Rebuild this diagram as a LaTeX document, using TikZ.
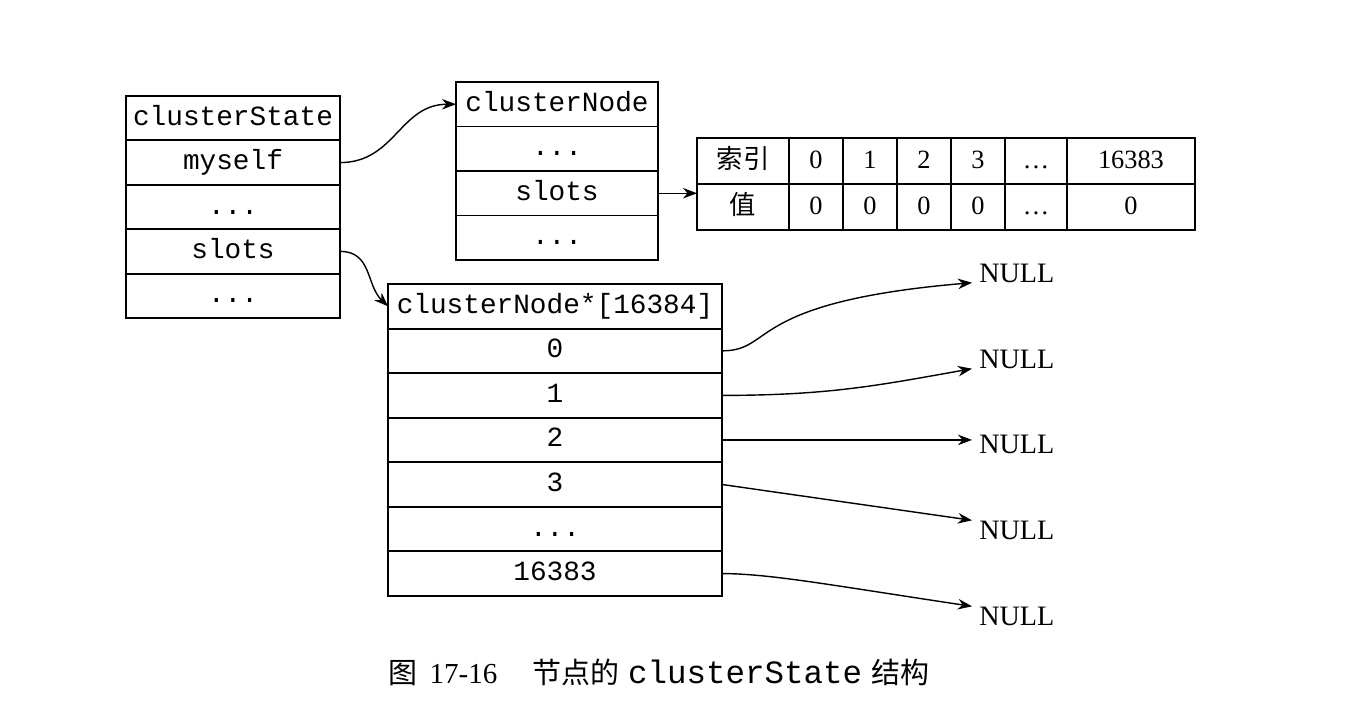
\documentclass[tikz,border=0pt]{standalone}
\usepackage{fontspec}
\setmainfont{Liberation Serif}
\setmonofont{Liberation Mono}
\newfontfamily\cjk{Noto Sans CJK SC}
\usetikzlibrary{arrows.meta, positioning}

\begin{document}
\begin{tikzpicture}[
  x=0.02cm, y=-0.02cm,
  node distance=0pt,
  cell/.style={draw, line width=1.1pt, outer sep=0pt, inner sep=0pt,
               text height=11pt, text depth=3pt,
               font=\fontsize{15.8}{18}\selectfont\ttfamily},
  csrow/.style={cell, minimum width=4.28cm, minimum height=0.888cm},
  cnrow/.style={cell, minimum width=4.04cm, minimum height=0.89cm},
  slotrow/.style={cell, minimum width=6.68cm, minimum height=0.891cm},
  tcell/.style={draw, line width=1.1pt, outer sep=0pt, inner sep=0pt,
                minimum height=0.92cm, text height=10.5pt, text depth=2.5pt,
                font=\fontsize{15}{18}\selectfont},
  nul/.style={anchor=west, inner xsep=4pt, inner ysep=0pt,
              font=\fontsize{16}{18}\selectfont},
  arr/.style={-{Stealth[length=8pt, width=6pt]}, line width=0.8pt},
]
\useasboundingbox (0,0) rectangle (1364,708);

% clusterState
\node[csrow] (cs1) at (233,118.2) {clusterState};
\node[csrow, below=of cs1] (cs2) {myself};
\node[csrow, below=of cs2] (cs3) {...};
\node[csrow, below=of cs3] (cs4) {slots};
\node[csrow, below=of cs4] (cs5) {...};

% clusterNode
\node[cnrow] (cn1) at (557,104.25) {clusterNode};
\node[cnrow, below=of cn1] (cn2) {...};
\node[cnrow, below=of cn2] (cn3) {slots};
\node[cnrow, below=of cn3] (cn4) {...};

% slots bitmap
\node[tcell, minimum width=1.84cm] (ti) at (743,161) {{\cjk 索引}};
\node[tcell, minimum width=1.08cm, right=of ti]  (ti0) {0};
\node[tcell, minimum width=1.08cm, right=of ti0] (ti1) {1};
\node[tcell, minimum width=1.08cm, right=of ti1] (ti2) {2};
\node[tcell, minimum width=1.08cm, right=of ti2] (ti3) {3};
\node[tcell, minimum width=1.24cm, right=of ti3] (tid) {\ldots};
\node[tcell, minimum width=2.56cm, right=of tid] (til) {16383};
\node[tcell, minimum width=1.84cm, below=of ti] (tv) {{\cjk 值}};
\node[tcell, minimum width=1.08cm, right=of tv]  (tv0) {0};
\node[tcell, minimum width=1.08cm, right=of tv0] (tv1) {0};
\node[tcell, minimum width=1.08cm, right=of tv1] (tv2) {0};
\node[tcell, minimum width=1.08cm, right=of tv2] (tv3) {0};
\node[tcell, minimum width=1.24cm, right=of tv3] (tvd) {\ldots};
\node[tcell, minimum width=2.56cm, right=of tvd] (tvl) {0};

% clusterNode*[16384]
\node[slotrow] (ar) at (555,306.3) {clusterNode*[16384]};
\node[slotrow, below=of ar] (a0) {0};
\node[slotrow, below=of a0] (a1) {1};
\node[slotrow, below=of a1] (a2) {2};
\node[slotrow, below=of a2] (a3) {3};
\node[slotrow, below=of a3] (ad) {...};
\node[slotrow, below=of ad] (alast) {16383};

% NULL pointers
\node[nul] (n0) at (972,273) {NULL};
\node[nul] (n1) at (972,359) {NULL};
\node[nul] (n2) at (972,444) {NULL};
\node[nul] (n3) at (972,530) {NULL};
\node[nul] (n4) at (972,616) {NULL};

\draw[arr] (cs2.east) .. controls (395,162.6) and (400,104.25) .. (cn1.west);
\draw[arr] (cs4.east) .. controls (372,251.4) and (366,285) .. (ar.west);
\draw[arr] (cn3.east) -- (cn3.east -| tv.west);

\draw[arr] (a0.east) .. controls (775,350.9) and (745,302) .. (n0.south west);
\draw[arr] (a1.east) .. controls (830,395.4) and (880,385) .. (n1.south west);
\draw[arr] (a2.east) -- (a2.east -| n2.west);
\draw[arr] (a3.east) -- (n3.north west);
\draw[arr] (alast.east) .. controls (770,573.7) and (830,585) .. (n4.north west);

% caption
\node[anchor=west, inner sep=0pt, font=\fontsize{16.5}{20}\selectfont] (cap) at (388,672)
  {{\cjk 图}\hspace{7pt}17-16\hspace{20pt}{\cjk 节点的}\hspace{5pt}{\fontsize{18.5}{20}\selectfont\ttfamily clusterState}\hspace{5pt}{\cjk 结构}};

\end{tikzpicture}
\end{document}
